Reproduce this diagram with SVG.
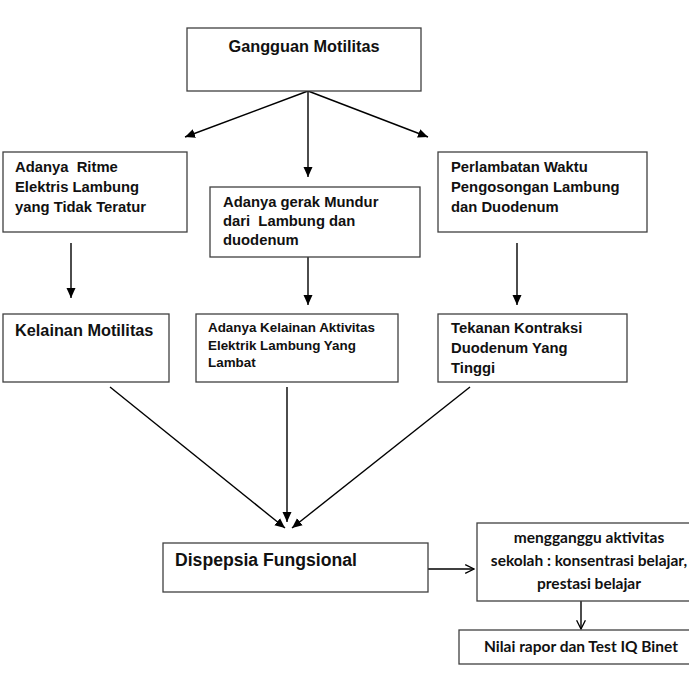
<svg xmlns="http://www.w3.org/2000/svg" width="689" height="680" viewBox="0 0 689 680">
<defs>
<style>
.box{fill:#fff;stroke:#404040;stroke-width:1.3}
.t{font-family:"Liberation Sans",Arial,sans-serif;font-weight:bold;fill:#111;white-space:pre}
.c{font-family:Lato,"Open Sans",sans-serif;font-weight:bold;fill:#111;text-anchor:middle}
.ln{stroke:#000;stroke-width:1.4;fill:none}
</style>
<marker id="ah" viewBox="0 0 10 10" refX="10" refY="5" markerWidth="10" markerHeight="10" markerUnits="userSpaceOnUse" orient="auto">
<path d="M0,0.5 L10,5 L0,9.5 z" fill="#000"/>
</marker>
<marker id="oh" viewBox="0 0 10 10" refX="9" refY="5" markerWidth="11" markerHeight="11" markerUnits="userSpaceOnUse" orient="auto">
<path d="M1,1 L9,5 L1,9" fill="none" stroke="#000" stroke-width="1.2"/>
</marker>
</defs>
<rect width="689" height="680" fill="#fff"/>
<g id="connectors">
<line class="ln" x1="308" y1="91" x2="185" y2="137" marker-end="url(#ah)"/>
<line class="ln" x1="308" y1="91" x2="308" y2="177" marker-end="url(#ah)"/>
<line class="ln" x1="308" y1="91" x2="428" y2="137" marker-end="url(#ah)"/>
<line class="ln" x1="71" y1="243" x2="71" y2="298" marker-end="url(#ah)"/>
<line class="ln" x1="308" y1="257" x2="308" y2="305" marker-end="url(#ah)"/>
<line class="ln" x1="517" y1="243" x2="517" y2="305" marker-end="url(#ah)"/>
<line class="ln" x1="110" y1="387" x2="285" y2="528" marker-end="url(#ah)"/>
<line class="ln" x1="287" y1="387" x2="287" y2="522" marker-end="url(#ah)"/>
<line class="ln" x1="470" y1="387" x2="292" y2="528" marker-end="url(#ah)"/>
<line class="ln" x1="428" y1="569" x2="474" y2="569" marker-end="url(#oh)"/>
<line class="ln" x1="581" y1="601" x2="581" y2="629" marker-end="url(#oh)"/>
</g>
<g id="n1">
<rect class="box" x="187" y="28" width="234" height="63"/>
<text class="t" x="304" y="52" font-size="16.3" text-anchor="middle">Gangguan Motilitas</text>
</g>
<g id="n2">
<rect class="box" x="3" y="152" width="184" height="80"/>
<text class="t" font-size="14.8" x="15" y="172" xml:space="preserve">Adanya  Ritme</text>
<text class="t" font-size="14.8" x="15" y="192">Elektris Lambung</text>
<text class="t" font-size="14.8" x="15" y="212">yang Tidak Teratur</text>
</g>
<g id="n3">
<rect class="box" x="210" y="187" width="210" height="70"/>
<text class="t" font-size="14.8" x="223" y="207">Adanya gerak Mundur</text>
<text class="t" font-size="14.8" x="223" y="226" xml:space="preserve">dari  Lambung dan</text>
<text class="t" font-size="14.8" x="223" y="245">duodenum</text>
</g>
<g id="n4">
<rect class="box" x="438" y="152" width="209" height="80"/>
<text class="t" font-size="14.8" x="451" y="172">Perlambatan Waktu</text>
<text class="t" font-size="14.8" x="451" y="192">Pengosongan Lambung</text>
<text class="t" font-size="14.8" x="451" y="212">dan Duodenum</text>
</g>
<g id="n5">
<rect class="box" x="3" y="314" width="166" height="68"/>
<text class="t" font-size="16.3" x="15" y="336">Kelainan Motilitas</text>
</g>
<g id="n6">
<rect class="box" x="196" y="314" width="202" height="68"/>
<text class="t" font-size="13.4" x="208" y="332">Adanya Kelainan Aktivitas</text>
<text class="t" font-size="13.4" x="208" y="350">Elektrik Lambung Yang</text>
<text class="t" font-size="13.4" x="208" y="367">Lambat</text>
</g>
<g id="n7">
<rect class="box" x="438" y="314" width="189" height="68"/>
<text class="t" font-size="14.8" x="451" y="333">Tekanan Kontraksi</text>
<text class="t" font-size="14.8" x="451" y="353">Duodenum Yang</text>
<text class="t" font-size="14.8" x="451" y="373">Tinggi</text>
</g>
<g id="n8">
<rect class="box" x="163" y="543" width="265" height="49"/>
<text class="t" font-size="17.6" x="175" y="566">Dispepsia Fungsional</text>
</g>
<g id="n9">
<rect class="box" x="477" y="523" width="230" height="78"/>
<text class="c" font-size="15.5" x="589" y="543">mengganggu aktivitas</text>
<text class="c" font-size="15.5" x="589" y="566">sekolah : konsentrasi belajar,</text>
<text class="c" font-size="15.5" x="589" y="589">prestasi belajar</text>
</g>
<g id="n10">
<rect class="box" x="459" y="630" width="240" height="34"/>
<text class="c" font-size="15.5" x="581" y="652">Nilai rapor dan Test IQ Binet</text>
</g>
</svg>
